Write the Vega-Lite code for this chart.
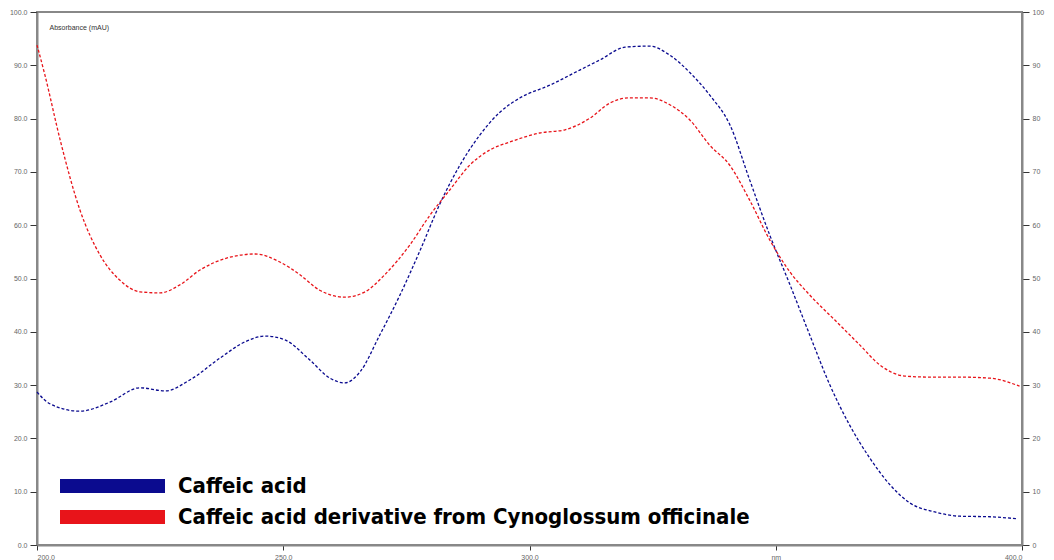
{
  "$schema": "https://vega.github.io/schema/vega-lite/v6.json",
  "autosize": {"type": "none"},
  "padding": {"left": 37, "top": 12, "right": 32, "bottom": 15},
  "width": 985,
  "height": 533,
  "background": "white",
  "config": {
    "view": {"stroke": "#888888", "strokeWidth": 2},
    "axis": {"labelFont": "Liberation Sans", "labelFontSize": 7, "labelColor": "#666666", "grid": false, "domainColor": "#888888", "domainWidth": 2, "tickColor": "#333333", "tickSize": 7, "labelPadding": 3},
    "legend": {"orient": "none", "title": null, "symbolType": "M-10.5,0H10.5", "symbolSize": 100, "symbolStrokeWidth": 14, "symbolDash": [1000, 0], "symbolOpacity": 1, "labelFont": "Liberation Sans Narrow, Arial Narrow, DejaVu Sans Condensed, Liberation Sans", "labelFontSize": 22, "labelFontWeight": "bold", "labelColor": "black", "labelLimit": 0, "labelOffset": 53.5, "padding": 0}
  },
  "data": {"values": [
    {"wl": 200.0, "v": 28.7, "s": "Caffeic acid"},
    {"wl": 202.6, "v": 26.5, "s": "Caffeic acid"},
    {"wl": 208.7, "v": 25.1, "s": "Caffeic acid"},
    {"wl": 214.8, "v": 26.8, "s": "Caffeic acid"},
    {"wl": 220.9, "v": 29.5, "s": "Caffeic acid"},
    {"wl": 226.0, "v": 28.9, "s": "Caffeic acid"},
    {"wl": 231.1, "v": 31.0, "s": "Caffeic acid"},
    {"wl": 237.2, "v": 35.1, "s": "Caffeic acid"},
    {"wl": 242.2, "v": 38.1, "s": "Caffeic acid"},
    {"wl": 246.3, "v": 39.2, "s": "Caffeic acid"},
    {"wl": 250.3, "v": 38.5, "s": "Caffeic acid"},
    {"wl": 255.4, "v": 34.7, "s": "Caffeic acid"},
    {"wl": 259.5, "v": 31.3, "s": "Caffeic acid"},
    {"wl": 262.5, "v": 30.4, "s": "Caffeic acid"},
    {"wl": 265.6, "v": 32.5, "s": "Caffeic acid"},
    {"wl": 269.6, "v": 39.4, "s": "Caffeic acid"},
    {"wl": 273.7, "v": 46.9, "s": "Caffeic acid"},
    {"wl": 277.8, "v": 55.3, "s": "Caffeic acid"},
    {"wl": 281.8, "v": 64.0, "s": "Caffeic acid"},
    {"wl": 285.9, "v": 71.3, "s": "Caffeic acid"},
    {"wl": 289.9, "v": 76.9, "s": "Caffeic acid"},
    {"wl": 294.0, "v": 81.2, "s": "Caffeic acid"},
    {"wl": 298.1, "v": 83.9, "s": "Caffeic acid"},
    {"wl": 304.2, "v": 86.3, "s": "Caffeic acid"},
    {"wl": 310.2, "v": 89.1, "s": "Caffeic acid"},
    {"wl": 314.3, "v": 91.0, "s": "Caffeic acid"},
    {"wl": 319.4, "v": 93.4, "s": "Caffeic acid"},
    {"wl": 324.4, "v": 93.6, "s": "Caffeic acid"},
    {"wl": 328.5, "v": 91.9, "s": "Caffeic acid"},
    {"wl": 332.6, "v": 88.6, "s": "Caffeic acid"},
    {"wl": 336.6, "v": 84.4, "s": "Caffeic acid"},
    {"wl": 340.7, "v": 78.8, "s": "Caffeic acid"},
    {"wl": 344.7, "v": 68.5, "s": "Caffeic acid"},
    {"wl": 348.8, "v": 58.1, "s": "Caffeic acid"},
    {"wl": 352.9, "v": 48.8, "s": "Caffeic acid"},
    {"wl": 356.9, "v": 39.4, "s": "Caffeic acid"},
    {"wl": 361.0, "v": 30.0, "s": "Caffeic acid"},
    {"wl": 365.0, "v": 22.5, "s": "Caffeic acid"},
    {"wl": 369.1, "v": 16.3, "s": "Caffeic acid"},
    {"wl": 373.2, "v": 11.3, "s": "Caffeic acid"},
    {"wl": 377.2, "v": 7.9, "s": "Caffeic acid"},
    {"wl": 382.3, "v": 6.2, "s": "Caffeic acid"},
    {"wl": 387.4, "v": 5.4, "s": "Caffeic acid"},
    {"wl": 393.5, "v": 5.3, "s": "Caffeic acid"},
    {"wl": 399.1, "v": 4.9, "s": "Caffeic acid"},
    {"wl": 200.0, "v": 93.8, "s": "Caffeic acid derivative from Cynoglossum officinale"},
    {"wl": 201.6, "v": 88.2, "s": "Caffeic acid derivative from Cynoglossum officinale"},
    {"wl": 204.7, "v": 76.0, "s": "Caffeic acid derivative from Cynoglossum officinale"},
    {"wl": 208.7, "v": 62.9, "s": "Caffeic acid derivative from Cynoglossum officinale"},
    {"wl": 212.8, "v": 54.4, "s": "Caffeic acid derivative from Cynoglossum officinale"},
    {"wl": 216.8, "v": 49.7, "s": "Caffeic acid derivative from Cynoglossum officinale"},
    {"wl": 220.9, "v": 47.5, "s": "Caffeic acid derivative from Cynoglossum officinale"},
    {"wl": 225.0, "v": 47.3, "s": "Caffeic acid derivative from Cynoglossum officinale"},
    {"wl": 229.0, "v": 48.8, "s": "Caffeic acid derivative from Cynoglossum officinale"},
    {"wl": 233.1, "v": 51.6, "s": "Caffeic acid derivative from Cynoglossum officinale"},
    {"wl": 239.2, "v": 54.0, "s": "Caffeic acid derivative from Cynoglossum officinale"},
    {"wl": 244.3, "v": 54.6, "s": "Caffeic acid derivative from Cynoglossum officinale"},
    {"wl": 249.3, "v": 53.1, "s": "Caffeic acid derivative from Cynoglossum officinale"},
    {"wl": 253.4, "v": 50.7, "s": "Caffeic acid derivative from Cynoglossum officinale"},
    {"wl": 257.4, "v": 47.8, "s": "Caffeic acid derivative from Cynoglossum officinale"},
    {"wl": 262.5, "v": 46.5, "s": "Caffeic acid derivative from Cynoglossum officinale"},
    {"wl": 266.6, "v": 47.5, "s": "Caffeic acid derivative from Cynoglossum officinale"},
    {"wl": 270.6, "v": 50.7, "s": "Caffeic acid derivative from Cynoglossum officinale"},
    {"wl": 275.7, "v": 56.3, "s": "Caffeic acid derivative from Cynoglossum officinale"},
    {"wl": 279.8, "v": 61.9, "s": "Caffeic acid derivative from Cynoglossum officinale"},
    {"wl": 283.8, "v": 66.6, "s": "Caffeic acid derivative from Cynoglossum officinale"},
    {"wl": 287.9, "v": 71.3, "s": "Caffeic acid derivative from Cynoglossum officinale"},
    {"wl": 291.9, "v": 74.1, "s": "Caffeic acid derivative from Cynoglossum officinale"},
    {"wl": 296.0, "v": 75.6, "s": "Caffeic acid derivative from Cynoglossum officinale"},
    {"wl": 302.1, "v": 77.3, "s": "Caffeic acid derivative from Cynoglossum officinale"},
    {"wl": 307.2, "v": 77.9, "s": "Caffeic acid derivative from Cynoglossum officinale"},
    {"wl": 312.3, "v": 80.1, "s": "Caffeic acid derivative from Cynoglossum officinale"},
    {"wl": 316.3, "v": 82.9, "s": "Caffeic acid derivative from Cynoglossum officinale"},
    {"wl": 320.4, "v": 83.9, "s": "Caffeic acid derivative from Cynoglossum officinale"},
    {"wl": 324.4, "v": 83.9, "s": "Caffeic acid derivative from Cynoglossum officinale"},
    {"wl": 328.5, "v": 82.6, "s": "Caffeic acid derivative from Cynoglossum officinale"},
    {"wl": 332.6, "v": 79.7, "s": "Caffeic acid derivative from Cynoglossum officinale"},
    {"wl": 336.6, "v": 75.0, "s": "Caffeic acid derivative from Cynoglossum officinale"},
    {"wl": 340.7, "v": 71.2, "s": "Caffeic acid derivative from Cynoglossum officinale"},
    {"wl": 344.7, "v": 64.7, "s": "Caffeic acid derivative from Cynoglossum officinale"},
    {"wl": 348.8, "v": 57.2, "s": "Caffeic acid derivative from Cynoglossum officinale"},
    {"wl": 352.9, "v": 51.2, "s": "Caffeic acid derivative from Cynoglossum officinale"},
    {"wl": 356.9, "v": 46.9, "s": "Caffeic acid derivative from Cynoglossum officinale"},
    {"wl": 362.0, "v": 42.2, "s": "Caffeic acid derivative from Cynoglossum officinale"},
    {"wl": 367.1, "v": 37.5, "s": "Caffeic acid derivative from Cynoglossum officinale"},
    {"wl": 371.1, "v": 33.8, "s": "Caffeic acid derivative from Cynoglossum officinale"},
    {"wl": 376.2, "v": 31.7, "s": "Caffeic acid derivative from Cynoglossum officinale"},
    {"wl": 381.3, "v": 31.5, "s": "Caffeic acid derivative from Cynoglossum officinale"},
    {"wl": 387.4, "v": 31.5, "s": "Caffeic acid derivative from Cynoglossum officinale"},
    {"wl": 393.5, "v": 31.3, "s": "Caffeic acid derivative from Cynoglossum officinale"},
    {"wl": 399.5, "v": 29.8, "s": "Caffeic acid derivative from Cynoglossum officinale"}
  ]},
  "layer": [
    {
      "transform": [{"filter": "datum.s === 'Caffeic acid'"}],
      "mark": {"type": "line", "interpolate": "monotone", "strokeWidth": 1.3, "strokeDash": [3, 2]},
      "encoding": {
        "x": {"field": "wl", "type": "quantitative", "scale": {"domain": [200, 400], "nice": false}, "axis": {"values": [200, 250, 300, 350, 400], "labelExpr": "datum.value == 350 ? 'nm' : format(datum.value, '.1f')", "title": null, "tickSize": 5}},
        "y": {"field": "v", "type": "quantitative", "scale": {"domain": [0, 100], "nice": false}, "axis": {"orient": "left", "values": [0, 10, 20, 30, 40, 50, 60, 70, 80, 90, 100], "format": ".1f", "title": "Absorbance (mAU)", "titleAngle": 0, "titleX": 12, "titleY": 15, "titleAlign": "left", "titleBaseline": "middle", "titleFontSize": 7, "titleFontWeight": "normal", "titleColor": "#333333", "titleFont": "Liberation Sans"}},
        "stroke": {"field": "s", "type": "nominal", "scale": {"domain": ["Caffeic acid"], "range": ["#0b0b8f"]}, "legend": {"legendX": 63.5, "legendY": 462}}
      }
    },
    {
      "transform": [{"filter": "datum.s !== 'Caffeic acid'"}],
      "mark": {"type": "line", "interpolate": "monotone", "strokeWidth": 1.3, "strokeDash": [3, 2]},
      "encoding": {
        "x": {"field": "wl", "type": "quantitative", "scale": {"domain": [200, 400], "nice": false}},
        "y": {"field": "v", "type": "quantitative", "scale": {"domain": [0, 100], "nice": false}, "axis": {"orient": "right", "values": [0, 10, 20, 30, 40, 50, 60, 70, 80, 90, 100], "format": "d", "title": null}},
        "color": {"field": "s", "type": "nominal", "scale": {"domain": ["Caffeic acid derivative from Cynoglossum officinale"], "range": ["#e8141a"]}, "legend": {"legendX": 63.5, "legendY": 493}}
      }
    }
  ],
  "resolve": {"scale": {"y": "independent"}}
}
